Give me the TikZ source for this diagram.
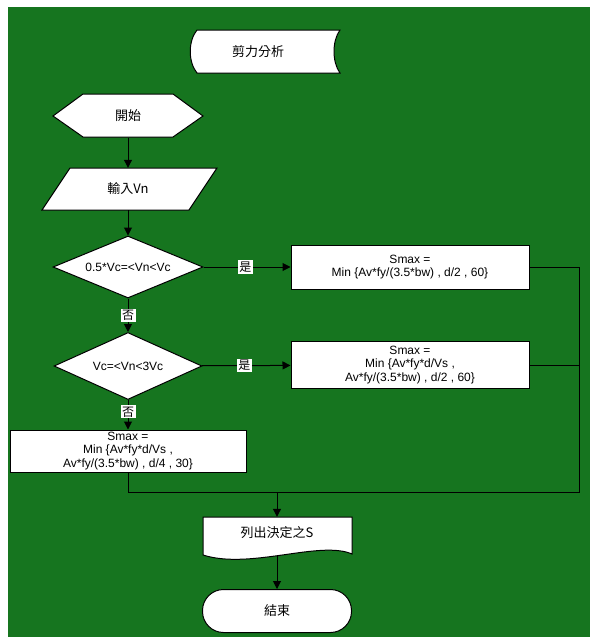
\documentclass[tikz,border=0pt]{standalone}
\usepackage{fontspec}
\setmainfont{Liberation Sans}
\newfontfamily\cjk{Noto Sans CJK TC}
\usepackage{tikz}
\usetikzlibrary{shapes.geometric,arrows.meta}
\definecolor{bggreen}{RGB}{22,117,31}
\tikzstyle{shapebox}=[draw=black,fill=white,line width=1pt]
\tikzstyle{txt}=[align=center,inner sep=0pt,font=\fontsize{12}{13.5}\selectfont]
\tikzstyle{cjktxt}=[inner sep=0pt,font=\cjk\fontsize{13}{15}\selectfont]
\tikzstyle{answer}=[fill=white,inner sep=1.5pt,font=\cjk\fontsize{12}{13}\selectfont]
\tikzstyle{wire}=[draw=black,line width=1pt]
\tikzstyle{flow}=[wire,-{Triangle[length=8pt,width=8pt]}]

\begin{document}
\begin{tikzpicture}[x=1pt,y=-1pt]
      \useasboundingbox (0,0) rectangle (590,637);
      \fill[bggreen] (8,7) rectangle (590,637);

      % shapes drawn first, text nodes on top
      \draw[shapebox] (197,30) -- (340,30) .. controls (332,41) and (332,62) .. (340,73)
        -- (197,73) .. controls (188,62) and (188,41) .. (197,30) -- cycle;
      \draw[shapebox] (53,116) -- (83,94) -- (173,94) -- (203,116) -- (173,137) -- (83,137) -- cycle;
      \draw[shapebox] (70,168) -- (217,168) -- (189,210) -- (42,210) -- cycle;
      \draw[shapebox] (203,517) -- (352,517) -- (352,554)
        .. controls (320,540) and (250,570) .. (203,555) -- cycle;

      \node[cjktxt] (title) at (258,52) {剪力分析};
      \node[cjktxt, minimum width=150pt, minimum height=43pt] (start) at (128,116) {開始};
      \node[cjktxt, minimum width=120pt, minimum height=42pt] (input) at (128,189) {輸入Vn};

      \node[shapebox, txt, diamond, aspect=2.4, minimum width=150pt, minimum height=62pt] (dec1) at (128,267) {0.5*Vc=<Vn<Vc};
      \node[shapebox, txt, diamond, aspect=2.2, minimum width=148pt, minimum height=67pt] (dec2) at (128,366) {Vc=<Vn<3Vc};

      \node[shapebox, txt, minimum width=238pt, minimum height=44pt] (box1) at (410,267)
        {Smax =\\Min \{Av*fy/(3.5*bw) , d/2 , 60\}};
      \node[shapebox, txt, minimum width=238pt, minimum height=47pt] (box2) at (410,365)
        {Smax =\\Min \{Av*fy*d/Vs ,\\Av*fy/(3.5*bw) , d/2 , 60\}};
      \node[shapebox, txt, minimum width=236pt, minimum height=42pt] (box3) at (128,451)
        {Smax =\\Min \{Av*fy*d/Vs ,\\Av*fy/(3.5*bw) , d/4 , 30\}};

      \node[cjktxt, minimum width=149pt, minimum height=38pt, text depth=9pt] (doc) at (277,536) {列出決定之S};
      \node[shapebox, cjktxt, rounded corners=21pt, minimum width=149pt, minimum height=43pt] (stop) at (277,611) {結束};

      \coordinate (merge) at (277,492);
      \coordinate (rt) at (579,492);

      \draw[flow] (start) -- (input);
      \draw[flow] (input) -- (dec1);
      \draw[flow] (dec1) -- node[answer] (no1) {否} (dec2);
      \draw[flow] (dec2) -- node[answer, pos=.4] (no2) {否} (box3);
      \foreach \d/\b in {dec1/box1,dec2/box2}{
        \draw[flow] (\d) -- node[answer, pos=.48] (yes\d) {是} (\b);
      }

      \draw[wire] (box1.east) -| (rt) -- (merge);
      \draw[wire] (box2.east) -- (box2.east -| rt);
      \draw[wire] (box3.south) |- (merge);
      \draw[flow] (merge) -- (doc);
      \draw[flow] (doc) -- (stop);
    \end{tikzpicture}
\end{document}
